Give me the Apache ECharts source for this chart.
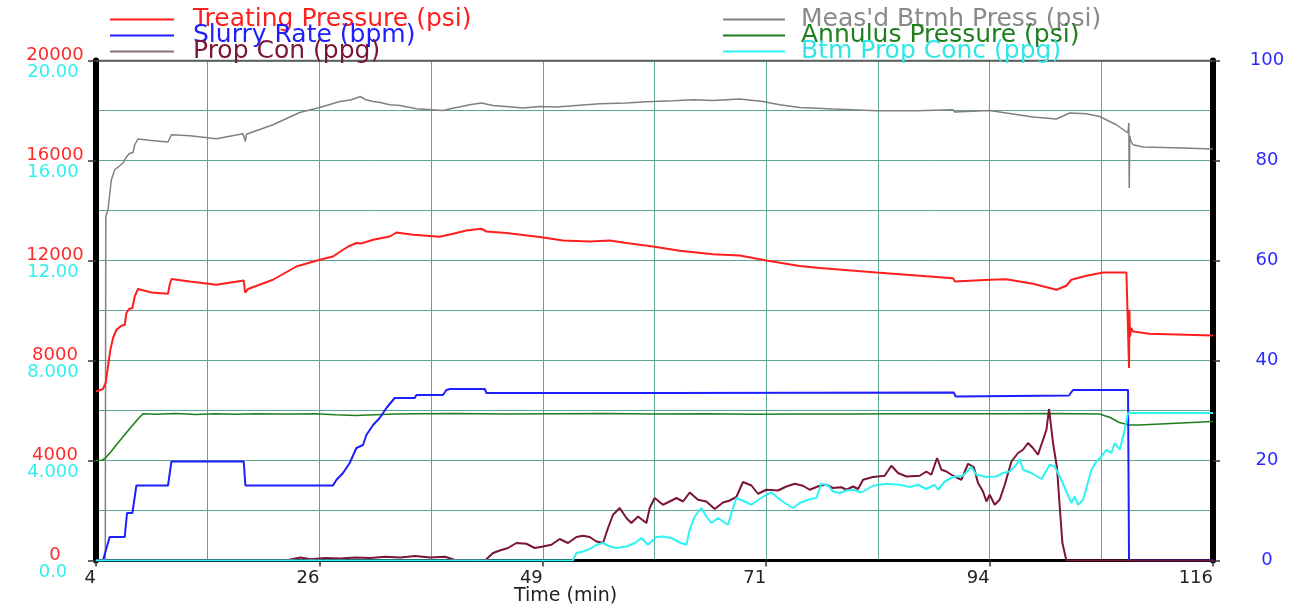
<!DOCTYPE html>
<html>
<head>
<meta charset="utf-8">
<script src="https://cdn.jsdelivr.net/npm/echarts@6/dist/echarts.min.js"></script>
<style>html,body{margin:0;padding:0;background:#fff}#c{width:1306px;height:611px}</style>
</head>
<body>
<div id="c"></div>
<script>
// ---------- data (time in minutes, value) ----------
const treatingPressure = [[4.0,6760],[4.7,6860],[4.97,7100],[5.2,7760],[5.44,8430],[5.71,8900],[6.05,9230],[6.55,9390],[6.88,9430],[7.05,9900],[7.31,10060],[7.65,10100],[7.88,10560],[8.21,10860],[9.56,10720],[11.22,10670],[11.39,11030],[11.56,11260],[13.4,11160],[16.07,11030],[18.81,11200],[18.95,10720],[19.24,10860],[21.75,11230],[24.09,11760],[26.43,12030],[27.76,12160],[28.77,12430],[29.3,12560],[30.11,12700],[30.6,12680],[31.78,12830],[33.45,12960],[34.12,13120],[35.79,13030],[38.46,12950],[39.8,13070],[41.14,13200],[42.64,13270],[43.15,13160],[45.15,13100],[48.49,12940],[50.83,12800],[53.5,12760],[55.51,12800],[57.18,12700],[59.85,12560],[62.53,12390],[65.87,12250],[68.54,12200],[71.22,12000],[74.56,11780],[76.56,11700],[82.25,11520],[89.93,11290],[90.13,11160],[90.33,11230],[93.61,11230],[95.28,11250],[97.95,11070],[100.3,10830],[101.3,10990],[101.8,11230],[103.31,11390],[104.97,11520],[107.32,11520],[107.5,11500],[107.58,7700],[107.62,10030],[107.68,8960],[107.8,9300],[108.0,9160],[109.6,9070],[116,9000]];

const slurryRate = [[4.0,0],[4.7,0],[5.37,4.7],[6.88,4.7],[7.11,9.5],[7.65,9.5],[8.05,15.0],[11.22,15.0],[11.56,19.8],[18.81,19.8],[18.98,15.0],[27.76,15.0],[28.1,16.1],[28.77,17.5],[29.44,19.5],[30.11,22.5],[30.77,23.1],[31.11,25.1],[31.78,27.1],[32.45,28.5],[33.12,30.5],[33.95,32.5],[35.96,32.5],[36.13,33.1],[38.79,33.1],[39.13,34.1],[39.5,34.3],[42.98,34.3],[43.15,33.5],[61.19,33.5],[61.3,33.7],[90.0,33.6],[90.2,32.8],[90.4,33.0],[101.56,33.0],[101.96,34.1],[107.48,34.1],[107.58,0],[116,0]];

const propCon = [[4,0],[23,0],[24.5,0.12],[25.5,0.05],[27,0.1],[28.5,0.08],[30,0.12],[31.5,0.1],[33,0.15],[34.5,0.12],[36,0.18],[37.5,0.12],[39,0.15],[40,0.02],[43.0,0],[43.15,0.07],[43.81,0.3],[44.48,0.4],[45.31,0.5],[46.15,0.7],[47.16,0.67],[47.99,0.5],[48.82,0.56],[49.66,0.63],[50.49,0.86],[51.33,0.7],[52.17,0.94],[52.83,0.99],[53.5,0.94],[54.18,0.76],[54.84,0.7],[55.34,1.3],[55.84,1.83],[56.51,2.1],[57.18,1.7],[57.68,1.5],[58.35,1.76],[59.19,1.5],[59.52,2.1],[60.02,2.5],[60.85,2.23],[61.52,2.36],[62.2,2.5],[62.86,2.36],[63.53,2.72],[64.36,2.43],[65.2,2.36],[66.04,2.06],[66.87,2.32],[67.54,2.4],[68.21,2.54],[68.87,3.14],[69.72,3.0],[70.38,2.67],[71.22,2.83],[72.38,2.8],[73.23,2.96],[74.06,3.07],[74.89,2.99],[75.56,2.83],[76.56,2.99],[77.24,3.03],[77.9,2.9],[78.74,2.93],[79.24,2.83],[79.91,2.96],[80.41,2.86],[80.91,3.23],[81.91,3.34],[83.08,3.39],[83.75,3.79],[84.42,3.5],[85.26,3.36],[86.59,3.39],[87.26,3.56],[87.76,3.43],[88.33,4.1],[88.77,3.63],[89.27,3.56],[89.93,3.39],[90.77,3.23],[91.44,3.87],[92.01,3.74],[92.44,3.1],[92.94,2.76],[93.28,2.36],[93.61,2.63],[94.11,2.23],[94.61,2.43],[95.12,3.03],[95.79,3.96],[96.45,4.3],[96.95,4.43],[97.45,4.7],[97.95,4.5],[98.45,4.23],[98.96,4.83],[99.3,5.23],[99.56,6.06],[99.96,4.7],[100.36,3.7],[100.63,2.16],[100.9,0.7],[101.3,0],[116,0]];

const btmhPress = [[4,0],[4.93,0],[4.98,13760],[5.2,14030],[5.54,15230],[5.88,15630],[6.38,15790],[6.71,15900],[6.98,16100],[7.31,16270],[7.71,16320],[7.88,16630],[8.21,16860],[9.56,16800],[11.22,16740],[11.56,17030],[13.4,16990],[16.07,16870],[18.74,17070],[18.98,16760],[19.08,17050],[21.75,17430],[24.42,17920],[26.43,18120],[28.44,18360],[29.5,18420],[30.11,18500],[30.5,18560],[31,18440],[31.77,18360],[32.5,18320],[33.45,18230],[34.5,18200],[36.12,18070],[38.8,18000],[39.8,18090],[41.47,18230],[42.64,18300],[43.81,18200],[45.15,18160],[46.82,18100],[48.49,18160],[50.16,18140],[51.83,18190],[54.5,18270],[57.18,18300],[59.19,18350],[61.86,18390],[63.86,18430],[65.87,18400],[68.54,18460],[70.88,18360],[72.55,18230],[74.56,18120],[77.9,18060],[82.25,17990],[86.26,17990],[89.93,18030],[90.1,17940],[90.3,18010],[93.6,18000],[95.28,17900],[97.95,17740],[100.3,17660],[101.63,17900],[103.31,17870],[104.63,17760],[106.31,17430],[107.47,17100],[107.56,17500],[107.6,14900],[107.66,17000],[107.74,16800],[107.98,16630],[108.98,16540],[112.99,16500],[115.97,16460]];

const annulusPressure = [[4,4000],[4.6,4010],[4.87,4070],[5.5,4350],[6.5,4850],[7.5,5330],[8.3,5700],[8.71,5870],[10,5850],[12,5880],[14,5840],[16,5870],[18,5850],[20,5870],[22,5860],[24,5860],[26,5870],[28,5830],[30,5800],[32,5830],[34,5860],[36,5870],[40,5880],[45,5860],[50,5870],[55,5880],[60,5860],[65,5870],[70,5850],[75,5860],[80,5860],[85,5870],[90,5870],[95,5870],[100,5880],[104.6,5860],[105.7,5720],[106.6,5520],[107.6,5420],[108.6,5420],[116,5560]];

const btmPropConc = [[4,0],[51.8,0],[52.17,0.3],[52.83,0.36],[53.5,0.46],[54.18,0.63],[54.84,0.7],[55.51,0.56],[56.18,0.5],[57.18,0.56],[58.02,0.7],[58.69,0.9],[59.35,0.63],[60.19,0.94],[60.85,0.96],[61.7,0.9],[62.53,0.72],[63.2,0.63],[63.53,1.23],[64.03,1.76],[64.7,2.1],[65.2,1.76],[65.71,1.5],[66.37,1.7],[66.87,1.56],[67.37,1.43],[67.87,2.1],[68.21,2.5],[69.05,2.36],[69.72,2.23],[70.55,2.46],[71.22,2.63],[71.72,2.72],[72.38,2.5],[73.06,2.3],[73.89,2.1],[74.56,2.3],[75.39,2.43],[76.23,2.5],[76.73,3.07],[77.4,3.0],[77.9,2.76],[78.57,2.7],[79.24,2.8],[79.91,2.83],[80.75,2.72],[81.91,2.99],[83.25,3.07],[84.58,3.03],[85.59,2.94],[86.42,3.03],[87.26,2.86],[88.09,3.03],[88.43,2.83],[89.1,3.16],[89.93,3.34],[90.93,3.39],[91.77,3.74],[92.27,3.43],[93.28,3.34],[94.28,3.36],[94.94,3.5],[95.62,3.56],[96.29,3.83],[96.62,4.06],[96.95,3.63],[97.79,3.5],[98.8,3.26],[99.63,3.83],[100.13,3.76],[100.63,3.36],[101.3,2.76],[101.8,2.3],[102.13,2.56],[102.47,2.23],[102.97,2.43],[103.31,2.9],[103.81,3.63],[104.31,3.96],[104.81,4.16],[105.31,4.43],[105.81,4.3],[106.15,4.7],[106.65,4.43],[107.15,5.23],[107.48,5.9],[116,5.9]];

const ppgTickLabels = ['0.0', '4.000', '8.000', '12.00', '16.00', '20.00'];
const seriesNames = ['Treating Pressure (psi)', 'Slurry Rate (bpm)', 'Prop Con (ppg)',
                     "Meas'd Btmh Press (psi)", 'Annulus Pressure (psi)', 'Btm Prop Conc (ppg)'];

// ---------- styles ----------
const C = {
  red: '#ff1e1e', blue: '#1e1eff', maroon: '#7a1535',
  gray: '#808080', green: '#1f7f1f', cyan: '#2ff2f2'
};
const GRID = '#5fa593';
const FONT = 'DejaVu Sans';

const chart = echarts.init(document.getElementById('c'), null, {renderer: 'canvas'});

function lineSeries(name, data, yIdx, color, width) {
  return {
    name, type: 'line', data, yAxisIndex: yIdx,
    showSymbol: false, symbol: 'none', animation: false,
    lineStyle: {color, width}, itemStyle: {color},
    emphasis: {disabled: true}
  };
}

const legendText = {fontSize: 25, fontFamily: FONT};

chart.setOption({
  animation: false,
  textStyle: {fontFamily: FONT},
  title: {
    text: 'Time (min)', left: 514, top: 587, padding: 0,
    textStyle: {fontSize: 19, fontWeight: 'normal', color: '#222', fontFamily: FONT}
  },
  legend: [
    {
      orient: 'vertical', left: 110, top: 7, padding: 0, itemGap: -9,
      itemWidth: 64, itemHeight: 2, icon: 'rect', selectedMode: false,
      textStyle: Object.assign({padding: [0, 0, 0, 14]}, legendText),
      data: [
        {name: seriesNames[0], textStyle: {color: C.red}},
        {name: seriesNames[1], textStyle: {color: C.blue}},
        {name: seriesNames[2], textStyle: {color: C.maroon}, itemStyle: {color: '#8a7378'}}
      ]
    },
    {
      orient: 'vertical', left: 723, top: 7, padding: 0, itemGap: -9,
      itemWidth: 62, itemHeight: 2, icon: 'rect', selectedMode: false,
      textStyle: Object.assign({padding: [0, 0, 0, 11]}, legendText),
      data: [
        {name: seriesNames[3], textStyle: {color: '#8a8a8a'}},
        {name: seriesNames[4], textStyle: {color: C.green}},
        {name: seriesNames[5], textStyle: {color: '#33e6e6'}}
      ]
    }
  ],
  grid: {
    left: 96, top: 60.5, width: 1117, height: 500,
    show: true, borderColor: '#555', borderWidth: 1.5, containLabel: false
  },
  xAxis: [
    {
      type: 'value', position: 'bottom', min: 4, max: 116, interval: 22.4, z: 1,
      axisLine: {show: true, onZero: false, lineStyle: {color: '#000', width: 3}},
      axisTick: {show: true, length: 6, lineStyle: {color: '#333', width: 1.5}},
      axisLabel: {
        color: '#222', fontSize: 18, align: 'right', margin: 9,
        formatter: v => String(Math.round(v))
      },
      splitLine: {show: true, lineStyle: {color: GRID, width: 1}},
      minorTick: {show: false, splitNumber: 2},
      minorSplitLine: {show: true, lineStyle: {color: GRID, width: 1}}
    },
    {
      type: 'value', position: 'top', min: 4, max: 116, z: 1,
      axisLine: {show: true, onZero: false, lineStyle: {color: '#555', width: 1.5}},
      axisTick: {show: false}, axisLabel: {show: false}, splitLine: {show: false}
    }
  ],
  yAxis: [
    {
      type: 'value', position: 'left', min: 0, max: 20000, interval: 4000, z: 1,
      axisLine: {show: true, onZero: false, lineStyle: {color: '#000', width: 6}},
      axisTick: {show: true, length: 8, lineStyle: {color: '#333', width: 1.5}},
      axisLabel: {
        color: '#ff2a2a', fontSize: 18, align: 'center', margin: 41,
        verticalAlign: 'bottom', lineHeight: 10,
        formatter: v => String(v)
      },
      splitLine: {show: true, lineStyle: {color: GRID, width: 1}},
      minorTick: {show: false, splitNumber: 2},
      minorSplitLine: {show: true, lineStyle: {color: GRID, width: 1}}
    },
    {
      type: 'value', position: 'left', min: 0, max: 20, interval: 4,
      axisLine: {show: false}, axisTick: {show: false}, splitLine: {show: false},
      axisLabel: {
        color: '#33eeee', fontSize: 18, align: 'center', margin: 43,
        verticalAlign: 'top', lineHeight: 23,
        formatter: v => ppgTickLabels[Math.round(v / 4)]
      }
    },
    {
      type: 'value', position: 'right', min: 0, max: 100, interval: 20, z: 1,
      axisLine: {show: true, onZero: false, lineStyle: {color: '#000', width: 6}},
      axisTick: {show: true, length: 7, lineStyle: {color: '#333', width: 1.5}},
      axisLabel: {color: '#2a2aff', fontSize: 18, align: 'center', margin: 54},
      splitLine: {show: false}
    }
  ],
  series: [
    lineSeries(seriesNames[3], btmhPress, 0, C.gray, 1.5),
    lineSeries(seriesNames[0], treatingPressure, 0, C.red, 2),
    lineSeries(seriesNames[4], annulusPressure, 0, C.green, 1.6),
    lineSeries(seriesNames[1], slurryRate, 2, C.blue, 2),
    lineSeries(seriesNames[2], propCon, 1, C.maroon, 2),
    lineSeries(seriesNames[5], btmPropConc, 1, C.cyan, 2)
  ]
});
</script>
</body>
</html>
